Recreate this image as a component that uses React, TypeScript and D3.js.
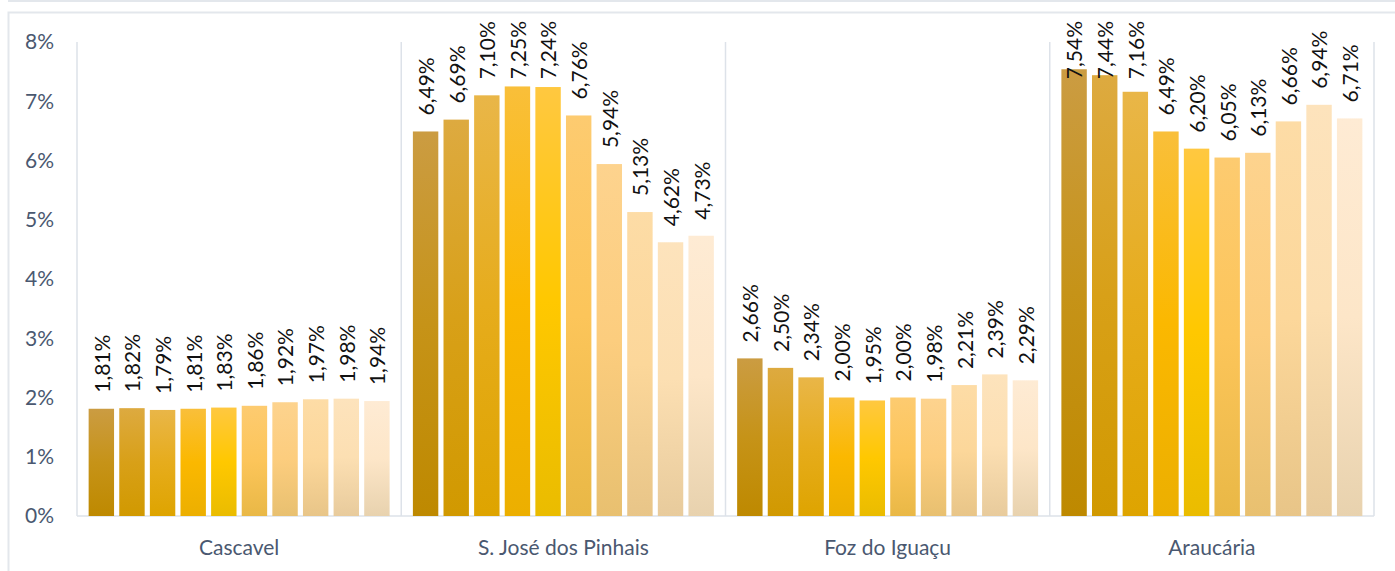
import { useEffect, useRef } from "react";
import * as d3 from "d3";

// cities on the x axis
const cities = ["Cascavel", "S. José dos Pinhais", "Foz do Iguaçu", "Araucária"];

// ten series per city
const cascavel = [1.81, 1.82, 1.79, 1.81, 1.83, 1.86, 1.92, 1.97, 1.98, 1.94];
const saoJose = [6.49, 6.69, 7.1, 7.25, 7.24, 6.76, 5.94, 5.13, 4.62, 4.73];
const foz = [2.66, 2.5, 2.34, 2.0, 1.95, 2.0, 1.98, 2.21, 2.39, 2.29];
const araucaria = [7.54, 7.44, 7.16, 6.49, 6.2, 6.05, 6.13, 6.66, 6.94, 6.71];

const yTicks = [0, 1, 2, 3, 4, 5, 6, 7, 8];

// gradient stops per series: top, middle, bottom
const palette = [
  ["#CB9C42", "#C69318", "#BE8900"],
  ["#DDAA40", "#D8A018", "#D19900"],
  ["#E9B648", "#E6AC1C", "#DEA400"],
  ["#F9BF3A", "#FBB800", "#ECAF00"],
  ["#FFC840", "#FFC800", "#EABC00"],
  ["#FDCB70", "#FCC55A", "#E9B846"],
  ["#FDD38E", "#FCCD7E", "#E8C070"],
  ["#FDDCA6", "#FCD79A", "#E8C588"],
  ["#FDE3BC", "#FCDFB2", "#E8CB9C"],
  ["#FEEBD4", "#FDE6C8", "#E8D2AE"],
];

const W = 1395;
const H = 571;
const font = "Lato, 'Open Sans', sans-serif";

export default function App() {
  const svgRef = useRef<SVGSVGElement>(null);

  useEffect(() => {
    const svg = d3.select(svgRef.current);
    svg.selectAll("*").remove();

    const data = [cascavel, saoJose, foz, araucaria];
    const left = 77, right = 1374, top = 42, bottom = 516;

    const x0 = d3.scaleBand<string>().domain(cities).range([left, right]);
    const x1 = d3
      .scaleBand<number>()
      .domain(d3.range(10))
      .range([0, x0.bandwidth()])
      .paddingInner(0.17)
      .paddingOuter(0.38);
    const y = d3.scaleLinear().domain([0, 8]).range([bottom, top]);

    const defs = svg.append("defs");
    palette.forEach((c, i) => {
      const g = defs
        .append("linearGradient")
        .attr("id", "g" + i)
        .attr("x1", 0).attr("y1", 0).attr("x2", 0).attr("y2", 1);
      g.append("stop").attr("offset", "0%").attr("stop-color", c[0]);
      g.append("stop").attr("offset", "50%").attr("stop-color", c[1]);
      g.append("stop").attr("offset", "100%").attr("stop-color", c[2]);
    });

    // outer frame
    svg.append("line").attr("x1", 8).attr("x2", W).attr("y1", 1).attr("y2", 1)
      .attr("stroke", "#E3E7EC").attr("stroke-width", 2);
    svg.append("path").attr("d", `M8.5,${H} V12.5 H${W}`)
      .attr("fill", "none").attr("stroke", "#E3E7EC").attr("stroke-width", 2);

    // category separators + baseline
    const seps = [...cities.map((c) => x0(c)!), right];
    svg.append("g").selectAll("line").data(seps).join("line")
      .attr("x1", (d) => d).attr("x2", (d) => d)
      .attr("y1", top).attr("y2", bottom)
      .attr("stroke", "#DDE2E9").attr("stroke-width", 1.5);
    svg.append("line").attr("x1", left).attr("x2", right)
      .attr("y1", bottom).attr("y2", bottom)
      .attr("stroke", "#DDE2E9").attr("stroke-width", 1.5);

    // y ticks
    svg.append("g").selectAll("text").data(yTicks).join("text")
      .attr("x", 54).attr("y", (d) => y(d)).attr("dy", "0.35em")
      .attr("text-anchor", "end")
      .attr("font-family", font).attr("font-size", 21)
      .attr("fill", "#4A5870")
      .text((d) => d + "%");

    // x labels
    svg.append("g").selectAll("text").data(cities).join("text")
      .attr("x", (d) => x0(d)! + x0.bandwidth() / 2).attr("y", 548).attr("dy", "0.35em")
      .attr("text-anchor", "middle")
      .attr("font-family", font).attr("font-size", 21)
      .attr("fill", "#4A5870")
      .text((d) => d);

    const fmt = (v: number) => v.toFixed(2).replace(".", ",") + "%";

    cities.forEach((c, ci) => {
      const g = svg.append("g").attr("transform", `translate(${x0(c)},0)`);
      g.selectAll("rect").data(data[ci]).join("rect")
        .attr("x", (_, i) => x1(i)!)
        .attr("width", x1.bandwidth())
        .attr("y", (d) => y(d))
        .attr("height", (d) => bottom - y(d))
        .attr("fill", (_, i) => `url(#g${i})`);

      g.selectAll("text").data(data[ci]).join("text")
        .attr("font-family", font).attr("font-size", 21)
        .attr("fill", "#111")
        .attr("text-anchor", "start")
        .attr("dy", "0.35em")
        .text((d) => fmt(d))
        .attr("transform", function (d, i) {
          const len = (this as SVGTextElement).getComputedTextLength();
          const cx = x1(i)! + x1.bandwidth() / 2 + 1;
          const yb = Math.max(y(d) - 16, 21 + len);
          return `translate(${cx},${yb}) rotate(-90)`;
        });
    });
  }, []);

  return (
    <svg
      ref={svgRef}
      width={W}
      height={H}
      style={{ position: "absolute", left: 0, top: 0, display: "block", background: "#fff" }}
    />
  );
}
